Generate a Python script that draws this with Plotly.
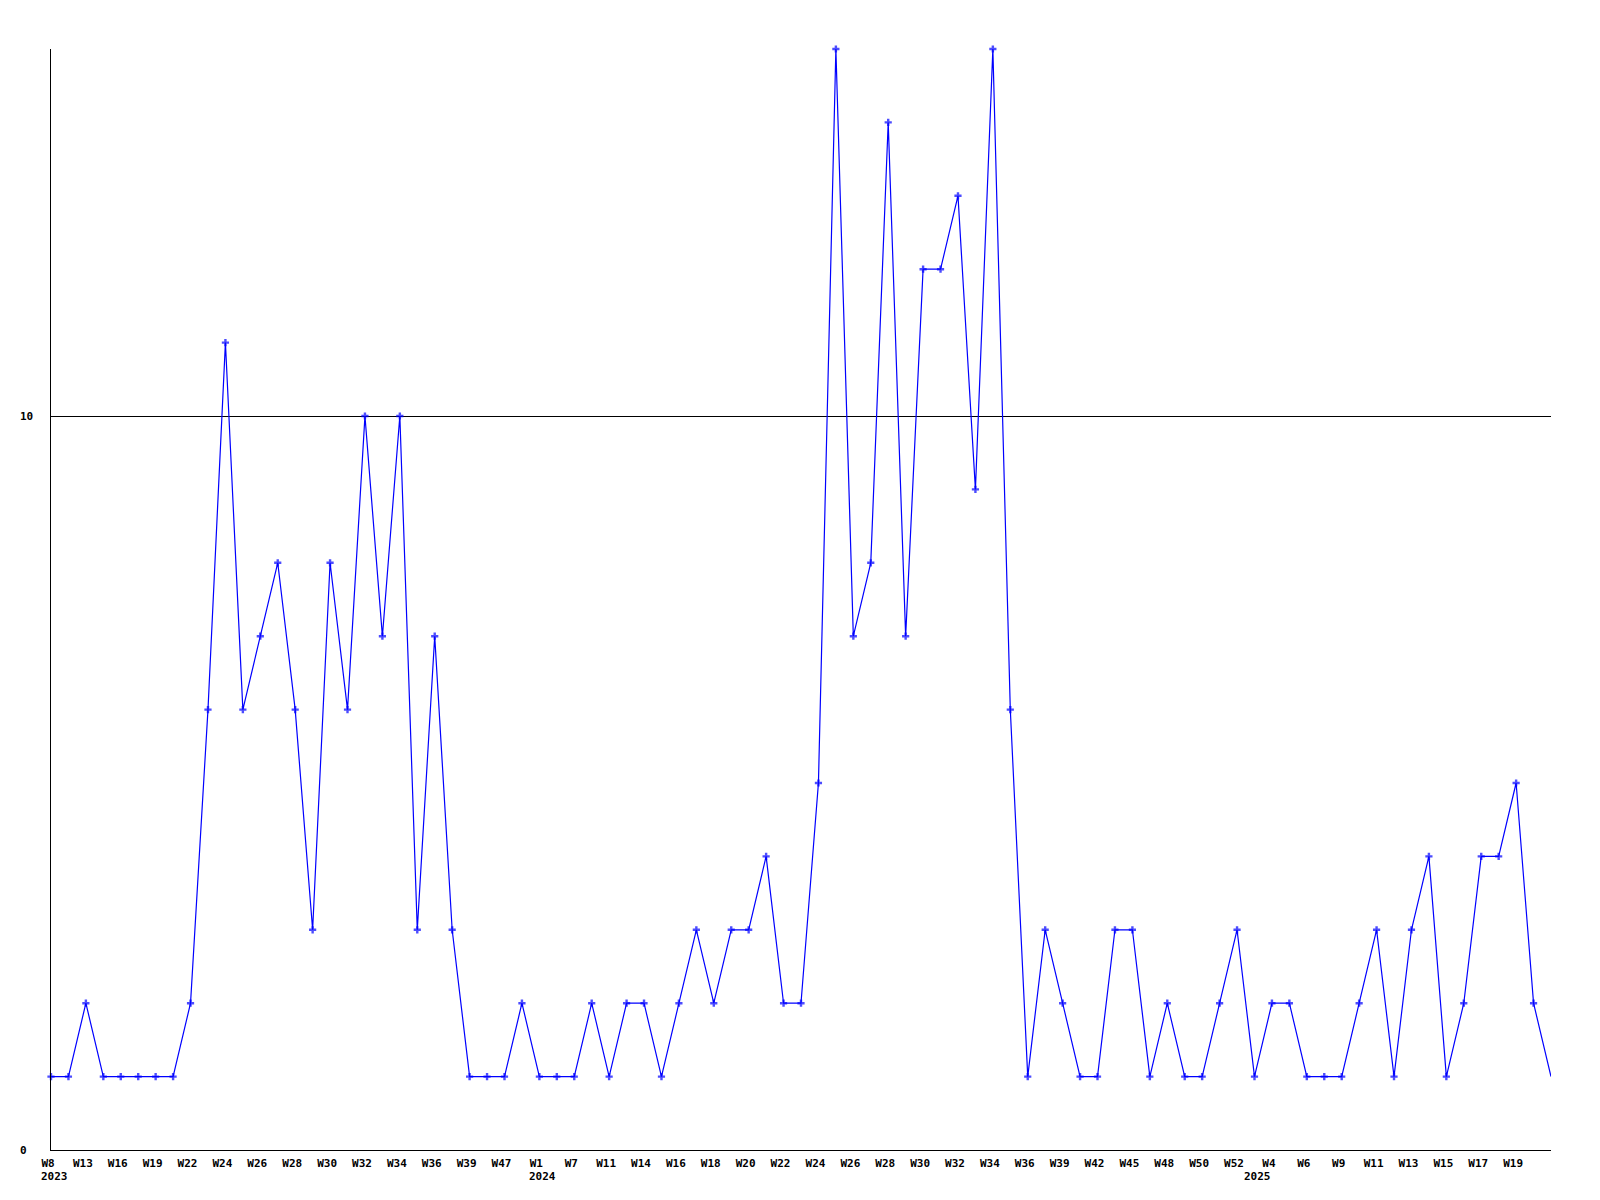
import plotly.graph_objects as go

years = [2023]*28 + [2024]*41 + [2025]*18
weeks = ["W8","W10","W13","W14","W16","W17","W19","W20","W22","W23",
         "W24","W25","W26","W27","W28","W29","W30","W31","W32","W33",
         "W34","W35","W36","W37","W39","W42","W47","W50",
         "W1","W3","W7","W9","W11","W13","W14","W15","W16","W17",
         "W18","W19","W20","W21","W22","W23","W24","W25","W26","W27",
         "W28","W29","W30","W31","W32","W33","W34","W35","W36","W37",
         "W39","W40","W42","W43","W45","W46","W48","W49","W50","W51","W52",
         "W1","W4","W5","W6","W8","W9","W10","W11","W12","W13","W14",
         "W15","W16","W17","W18","W19","W20","W21"]
values = [1,1,2,1,1,1,1,1,2,6,
          11,6,7,8,6,3,8,6,10,7,
          10,3,7,3,1,1,1,2,
          1,1,1,2,1,2,2,1,2,3,
          2,3,3,4,2,2,5,15,7,8,
          14,7,12,12,13,9,15,6,1,3,
          2,1,1,3,3,1,2,1,1,2,3,
          1,2,2,1,1,1,2,3,1,3,4,
          1,2,4,4,5,2,1]
y_ticks = [0, 10]

cats = [f"{y}-{w}" for y, w in zip(years, weeks)]
n = len(cats)

font = dict(family="DejaVu Sans Mono", size=11, color="black", weight="bold")

sizes = [6]*(n-1) + [0]

fig = go.Figure()
fig.add_trace(go.Scatter(
    x=cats, y=values, mode="lines+markers",
    line=dict(color="#0000ff", width=1.2),
    marker=dict(symbol="cross", size=sizes, color="#0000ff", line=dict(width=0)),
    showlegend=False, cliponaxis=False,
))

tick_idx = list(range(0, n - 1, 2))
tickvals = [cats[i] for i in tick_idx]
ticktext = [weeks[i] for i in tick_idx]

annotations = []
prev_year = None
for i, (y, w) in enumerate(zip(years, weeks)):
    if y != prev_year:
        annotations.append(dict(
            x=cats[i], xref="x", y=0, yref="paper", text=str(y),
            showarrow=False, xanchor="left", yanchor="top",
            xshift=-12, yshift=-18, font=font,
        ))
        prev_year = y

# y tick labels drawn left-aligned like the reference
for v in y_ticks:
    annotations.append(dict(
        x=0, xref="paper", y=v, yref="y", text=str(v),
        showarrow=False, xanchor="left", yanchor="middle",
        xshift=-33, font=font,
    ))

fig.update_layout(
    width=1600, height=1200,
    margin=dict(l=43, r=57, t=41, b=58),
    paper_bgcolor="white", plot_bgcolor="white",
    font=font,
    annotations=annotations,
    xaxis=dict(
        type="category", categoryorder="array", categoryarray=cats,
        range=[0, n-1], tickvals=tickvals, ticktext=ticktext,
        showline=True, linecolor="black", linewidth=1,
        showgrid=False, zeroline=False, ticks="",
        ticklabelstandoff=3, ticklabelshift=-3, tickangle=0,
        tickfont=font,
    ),
    yaxis=dict(
        range=[0, 15], tickvals=y_ticks, showticklabels=False,
        showline=True, linecolor="black", linewidth=1,
        showgrid=True, gridcolor="black", gridwidth=1,
        zeroline=False, ticks="",
    ),
)

fig.write_html("out.html")
